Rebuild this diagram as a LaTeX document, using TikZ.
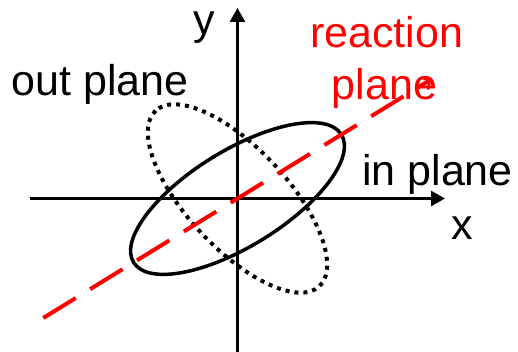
\documentclass[tikz,border=0pt]{standalone}
\usepackage{fontspec}
\setmainfont{Liberation Sans}
\usetikzlibrary{arrows.meta,calc}
\begin{document}
\begin{tikzpicture}[x=1pt,y=1pt,
  lbl/.style={inner sep=0pt,font=\fontsize{43}{46}\selectfont},
  axis/.style={line width=2.5pt,-{Triangle[length=14pt,width=15pt]}},
  solidell/.style={line width=3.5pt},
  dotell/.style={line width=4pt,dash pattern=on 4pt off 5pt},
  rplane/.style={red,line width=4pt,dash pattern=on 38pt off 17pt,-{Straight Barb[length=7pt,width=14pt,line width=2.5pt]}}]
\useasboundingbox (0,0) rectangle (518,352);
\coordinate (O) at (237.5,153.5);
\coordinate (xs) at (30,153.5);
\coordinate (xe) at (445,153.5);
\coordinate (ys) at (237.5,0);
\coordinate (ye) at (237.5,344);
\coordinate (rs) at ($(O)+(211.6:228)$);
\coordinate (re) at ($(O)+(31.6:228)$);
\draw[axis] (xs) -- (xe);
\draw[axis] (ys) -- (ye);
\draw[solidell] (O) ellipse [x radius=122, y radius=48, rotate=31.6];
\draw[dotell] (O) ellipse [x radius=120, y radius=50, rotate=133];
\draw[rplane] (rs) -- (re);
\node[lbl,anchor=base west] (ylab) at (193,317.5) {y};
\node[lbl,anchor=base west] (xlab) at (451,112) {x};
\node[lbl,anchor=base west] (outp) at (11.5,256) {out plane};
\node[lbl,anchor=base west] (inp) at (362,166) {in plane};
\node[lbl,anchor=base,red] (react) at (386.5,304) {reaction};
\node[lbl,anchor=base,red] (rpl) at (384.5,252) {plane};
\end{tikzpicture}
\end{document}
